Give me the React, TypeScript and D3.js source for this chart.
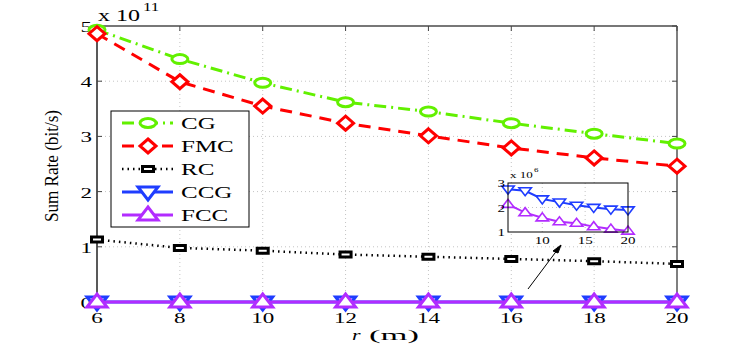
import * as d3 from 'd3';
import React from 'react';

// distances r (m)
const rVals = [6, 8, 10, 12, 14, 16, 18, 20];
// sum rates in bit/s
const cgRate = [4.93e11, 4.4e11, 3.97e11, 3.62e11, 3.45e11, 3.24e11, 3.05e11, 2.87e11];
const fmcRate = [4.86e11, 3.99e11, 3.55e11, 3.24e11, 3.01e11, 2.79e11, 2.61e11, 2.46e11];
const rcRate = [1.13e11, 0.98e11, 0.93e11, 0.86e11, 0.82e11, 0.78e11, 0.74e11, 0.69e11];
const ccgRate = [2.75e6, 2.68e6, 2.35e6, 2.22e6, 2.09e6, 2.0e6, 1.93e6, 1.9e6];
const fccRate = [2.13e6, 1.79e6, 1.58e6, 1.42e6, 1.36e6, 1.22e6, 1.12e6, 1.04e6];

const yTicks = [0, 1e11, 2e11, 3e11, 4e11, 5e11];
const yTickLabels = ['0', '1', '2', '3', '4', '5'];
const insetXTicks = [10, 15, 20];
const insetYTicks = [1e6, 2e6, 3e6];
const insetYLabels = ['1', '2', '3'];
const legendNames = ['CG', 'FMC', 'RC', 'CCG', 'FCC'];

const FONT = 'Liberation Serif, Times New Roman, serif';
const SQ = 0.68; // text looks squashed vertically

const GREEN = '#62f000';
const RED = '#ff0000';
const BLUE = '#1f3dff';
const PURPLE = '#b22cff';

function Txt(p: any) {
  const { x, y, size, anchor = 'start', italic = false, children, len } = p;
  return (
    <text
      transform={`translate(${x},${y}) scale(1,${SQ})`}
      fontSize={size}
      fontFamily={FONT}
      fontStyle={italic ? 'italic' : 'normal'}
      textAnchor={anchor}
      fill="#000"
      textLength={len}
      lengthAdjust={len ? 'spacingAndGlyphs' : undefined}
    >
      {children}
    </text>
  );
}

// marker shapes
const circ = (x: number, y: number, s: number) =>
  `M${x - 8 * s},${y} A${8 * s},${4.5 * s} 0 1,0 ${x + 8 * s},${y} A${8 * s},${4.5 * s} 0 1,0 ${x - 8 * s},${y} Z`;
const diam = (x: number, y: number, s: number) =>
  `M${x},${y - 7 * s} L${x + 8 * s},${y} L${x},${y + 7 * s} L${x - 8 * s},${y} Z`;
const sqr = (x: number, y: number, s: number) =>
  `M${x - 5.5 * s},${y - 2.5 * s} h${11 * s} v${5 * s} h${-11 * s} Z`;
const triDown = (x: number, y: number, s: number) =>
  `M${x - 10 * s},${y - 5 * s} L${x + 10 * s},${y - 5 * s} L${x},${y + 8 * s} Z`;
const triUp = (x: number, y: number, s: number) =>
  `M${x - 10 * s},${y + 5 * s} L${x + 10 * s},${y + 5 * s} L${x},${y - 8 * s} Z`;

const series = [
  { name: 'CG', data: cgRate, color: GREEN, dash: '12,5,2,5', lw: 3, shape: circ, mw: 3, fill: '#fff' },
  { name: 'FMC', data: fmcRate, color: RED, dash: '12,8', lw: 3, shape: diam, mw: 3, fill: '#fff' },
  { name: 'RC', data: rcRate, color: '#000', dash: '1.5,4', lw: 2.5, shape: sqr, mw: 3, fill: '#fff' },
  { name: 'CCG', data: ccgRate, color: BLUE, dash: null, lw: 3, shape: triDown, mw: 3, fill: '#fff' },
  { name: 'FCC', data: fccRate, color: PURPLE, dash: null, lw: 3, shape: triUp, mw: 3, fill: '#fff' },
];

export default function App() {
  const x = d3.scaleLinear().domain([6, 20]).range([97, 677]);
  const y = d3.scaleLinear().domain([0, 5e11]).range([302, 26]);
  const top = 26, bottom = 302, left = 97, right = 677;

  const ix = d3.scaleLinear().domain([6, 20]).range([508, 628]);
  const iy = d3.scaleLinear().domain([1e6, 3e6]).range([232, 183]);

  const grid = '#c4c4c4';

  return (
    <svg width={747} height={346} style={{ position: 'absolute', left: 0, top: 0, background: '#fff' }}>
      {/* grid */}
      {rVals.slice(1, -1).map((v) => (
        <line key={'gx' + v} x1={x(v)} x2={x(v)} y1={top} y2={bottom} stroke={grid} strokeWidth={1} strokeDasharray="1,3" />
      ))}
      {yTicks.slice(1, -1).map((v) => (
        <line key={'gy' + v} x1={left} x2={right} y1={y(v)} y2={y(v)} stroke={grid} strokeWidth={1} strokeDasharray="1,3" />
      ))}
      {/* axes box */}
      <line x1={left} x2={right} y1={top} y2={top} stroke="#777" strokeWidth={2} />
      <line x1={right} x2={right} y1={top} y2={bottom} stroke="#555" strokeWidth={1.5} />
      <line x1={left} x2={right} y1={bottom} y2={bottom} stroke="#333" strokeWidth={1} />
      <line x1={left} x2={left} y1={top} y2={bottom} stroke="#222" strokeWidth={1.5} />
      {rVals.map((v) => (
        <g key={'tx' + v}>
          <line x1={x(v)} x2={x(v)} y1={top} y2={top + 5} stroke="#444" />
          <line x1={x(v)} x2={x(v)} y1={bottom} y2={bottom - 5} stroke="#444" />
        </g>
      ))}
      {yTicks.map((v) => (
        <g key={'ty' + v}>
          <line x1={left} x2={left + 5} y1={y(v)} y2={y(v)} stroke="#444" />
          <line x1={right} x2={right - 5} y1={y(v)} y2={y(v)} stroke="#444" />
        </g>
      ))}
      {/* y tick labels */}
      {yTicks.map((v, i) => (
        <Txt key={'yl' + v} x={92} y={y(v) + 6} size={23} anchor="end">{yTickLabels[i]}</Txt>
      ))}
      {/* exponent */}
      <Txt x={98} y={21} size={24}>x 10</Txt>
      <Txt x={143} y={11} size={17}>11</Txt>

      {/* series */}
      {series.map((s) => {
        const line = d3.line<number>().x((_, i) => x(rVals[i])).y((d) => y(d));
        return (
          <g key={s.name}>
            <path d={line(s.data) || ''} fill="none" stroke={s.color} strokeWidth={s.lw} strokeDasharray={s.dash || undefined} />
            {s.data.map((d, i) => (
              <path key={i} d={s.shape(x(rVals[i]), y(d), 1)} fill={s.fill} stroke={s.color} strokeWidth={s.mw} />
            ))}
          </g>
        );
      })}

      {/* x tick labels */}
      {rVals.map((v) => (
        <Txt key={'xl' + v} x={x(v)} y={323} size={23} anchor="middle">{String(v)}</Txt>
      ))}
      {/* x label */}
      <Txt x={352} y={340} size={22} italic={true}>r</Txt>
      <Txt x={369} y={340} size={22} len={50}>(m)</Txt>
      {/* y label */}
      <text
        transform="translate(58,166) rotate(-90)"
        fontSize={18}
        fontFamily={FONT}
        textAnchor="middle"
        textLength={112}
        lengthAdjust="spacingAndGlyphs"
      >
        Sum Rate (bit/s)
      </text>

      {/* legend */}
      <rect x={111} y={111} width={138} height={116} fill="#fff" stroke="#000" strokeWidth={1} />
      {series.map((s, i) => {
        const cy = 123 + i * 23;
        return (
          <g key={'lg' + s.name}>
            <line x1={122} x2={173} y1={cy} y2={cy} stroke={s.color} strokeWidth={s.lw} strokeDasharray={s.dash || undefined} />
            <path d={s.shape(148, cy, 1)} fill={s.fill} stroke={s.color} strokeWidth={s.mw} />
            <Txt x={181} y={cy + 6} size={25}>{legendNames[i]}</Txt>
          </g>
        );
      })}

      {/* inset */}
      <rect x={508} y={183} width={120} height={49} fill="#fff" stroke="none" />
      {insetXTicks.slice(0, 2).map((v) => (
        <line key={'igx' + v} x1={ix(v)} x2={ix(v)} y1={183} y2={232} stroke={grid} strokeDasharray="1,3" />
      ))}
      <line x1={508} x2={628} y1={iy(2e6)} y2={iy(2e6)} stroke={grid} strokeDasharray="1,3" />
      {series.slice(3).map((s) => {
        const line = d3.line<number>().x((_, i) => ix(rVals[i])).y((d) => iy(d));
        return (
          <g key={'in' + s.name}>
            <path d={line(s.data) || ''} fill="none" stroke={s.color} strokeWidth={2} />
            {s.data.map((d, i) => (
              <path key={i} d={s.shape(ix(rVals[i]), iy(d), 0.62)} fill={s.fill} stroke={s.color} strokeWidth={1.6} />
            ))}
          </g>
        );
      })}
      <rect x={508} y={183} width={120} height={49} fill="none" stroke="#000" strokeWidth={1} />
      {insetXTicks.map((v) => (
        <Txt key={'ixl' + v} x={ix(v)} y={244} size={15} anchor="middle">{String(v)}</Txt>
      ))}
      {insetYTicks.map((v, i) => (
        <Txt key={'iyl' + v} x={505} y={iy(v) + 4} size={15} anchor="end">{insetYLabels[i]}</Txt>
      ))}
      <Txt x={510} y={178} size={13}>x 10</Txt>
      <Txt x={534} y={172} size={9}>6</Txt>

      {/* arrow */}
      <line x1={528} y1={289} x2={561} y2={245} stroke="#000" strokeWidth={1} />
      <path d="M561,245 L553,251 L558,253 Z" fill="#000" stroke="#000" strokeWidth={1} />
    </svg>
  );
}
